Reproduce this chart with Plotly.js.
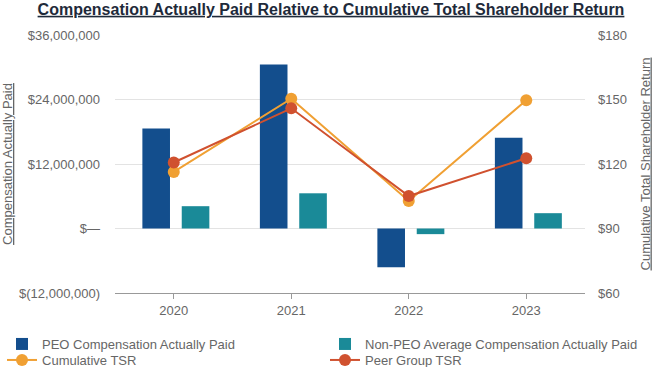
<!DOCTYPE html>
<html>
<head>
<meta charset="utf-8">
<script src="https://cdn.plot.ly/plotly-3.0.1.min.js"></script>
<style>
html,body{margin:0;padding:0;background:#fff;}
#chart{width:662px;height:367px;}
</style>
</head>
<body>
<div id="chart"></div>
<script>
const years = ["2020", "2021", "2022", "2023"];
const peoCap = [18600000, 30500000, -7200000, 16900000];
const nonPeoCap = [4150000, 6550000, -1050000, 2850000];
const cumulativeTsr = [116.3, 150.4, 102.8, 149.7];
const peerTsr = [120.7, 145.9, 105.1, 122.7];
const leftTickVals = [-12000000, 0, 12000000, 24000000, 36000000];
const leftTickText = ["$(12,000,000)", "$\u2014", "$12,000,000", "$24,000,000", "$36,000,000"];
const rightTickVals = [60, 90, 120, 150, 180];
const rightTickText = ["$60", "$90", "$120", "$150", "$180"];

const traces = [
  {type: "bar", x: years, y: peoCap, name: "PEO Compensation Actually Paid", legend: "legend",
   marker: {color: "#134e8d"}, width: 0.235, offset: -0.267, yaxis: "y"},
  {type: "bar", x: years, y: nonPeoCap, name: "Non-PEO Average Compensation Actually Paid", legend: "legend2",
   marker: {color: "#1a8a98"}, width: 0.235, offset: 0.068, yaxis: "y"},
  {type: "scatter", mode: "lines+markers", x: years, y: cumulativeTsr, name: "Cumulative TSR", legend: "legend3",
   line: {color: "#f0a033", width: 2}, marker: {color: "#f0a033", size: 12}, yaxis: "y2"},
  {type: "scatter", mode: "lines+markers", x: years, y: peerTsr, name: "Peer Group TSR", legend: "legend4",
   line: {color: "#d0512f", width: 2}, marker: {color: "#d0512f", size: 12}, yaxis: "y2"}
];

const legendBase = {orientation: "v", xanchor: "left", yanchor: "middle", font: {size: 13, color: "#666"},
                    bgcolor: "rgba(0,0,0,0)", borderwidth: 0};
const col1 = -0.2404, col2 = 0.4468, row1 = -0.1977, row2 = -0.2597;

const layout = {
  width: 662, height: 367,
  margin: {l: 115, r: 77, t: 35, b: 74, autoexpand: false},
  paper_bgcolor: "#fff", plot_bgcolor: "#fff",
  font: {family: "Liberation Sans, Arial, sans-serif", size: 13, color: "#666"},
  title: {text: "<b><u>Compensation Actually Paid Relative to Cumulative Total Shareholder Return</u></b>",
          x: 0.5, xanchor: "center", y: 0.975, yanchor: "middle",
          font: {size: 16, color: "#1e2a3a", family: "Liberation Sans, Arial, sans-serif"}},
  showlegend: true,
  barmode: "overlay",
  xaxis: {type: "category", range: [-0.5, 3.5], showgrid: false, showline: true, linecolor: "#999", linewidth: 1,
          ticks: "outside", ticklen: 5, tickcolor: "#999", tickfont: {size: 13, color: "#666"}, fixedrange: true},
  yaxis: {range: [-12000000, 36000000], tickvals: leftTickVals, ticktext: leftTickText,
          showgrid: true, gridcolor: "#e3e3e3", zeroline: false, ticks: "", tickfont: {size: 13, color: "#666"},
          ticklabelstandoff: 14,
          title: {text: "<u>Compensation Actually Paid</u>", font: {size: 13, color: "#666"}, standoff: 18}},
  yaxis2: {range: [60, 180], tickvals: rightTickVals, ticktext: rightTickText, overlaying: "y", side: "right",
           showgrid: false, zeroline: false, ticks: "", tickfont: {size: 13, color: "#666"},
           ticklabelstandoff: 12,
           title: {text: "<u>Cumulative Total Shareholder Return</u>", font: {size: 13, color: "#666"}, standoff: 14}},
  legend: Object.assign({}, legendBase, {x: col1, y: row1}),
  legend2: Object.assign({}, legendBase, {x: col2, y: row1}),
  legend3: Object.assign({}, legendBase, {x: col1, y: row2}),
  legend4: Object.assign({}, legendBase, {x: col2, y: row2})
};

Plotly.newPlot("chart", traces, layout, {displayModeBar: false, staticPlot: true});
</script>
</body>
</html>
